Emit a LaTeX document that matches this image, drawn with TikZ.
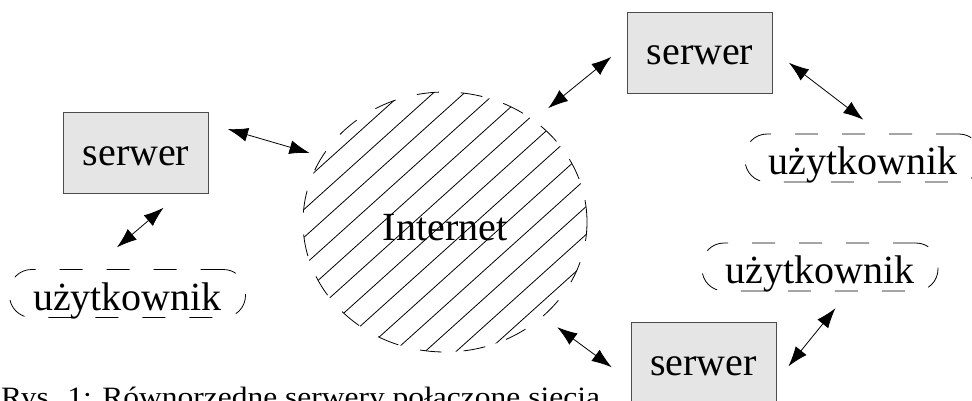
\documentclass[tikz,border=0pt]{standalone}
\usepackage{fontspec}
\setmainfont{Liberation Serif}
\usetikzlibrary{arrows.meta,shapes.geometric,calc}
\newcommand\duzy{\fontsize{40}{48}\selectfont}
\tikzset{
  serwer/.style={draw=black!70, fill=black!10, line width=0.8pt, minimum width=145pt, minimum height=81pt, inner sep=0pt, text height=24pt, text depth=0pt, font=\duzy},
  uzyt/.style={draw, line width=0.8pt, dash pattern=on 23pt off 24pt, rounded corners=22pt, minimum width=236pt, minimum height=48pt, inner sep=0pt, text height=40.5pt, text depth=7.5pt, font=\duzy},
  siec/.style={draw, ellipse, line width=0.8pt, dash pattern=on 22pt off 22pt, minimum width=284pt, minimum height=260pt, inner sep=0pt, text height=36pt, text depth=0pt, font=\duzy},
  lacze/.style={line width=0.8pt, {Latex[length=20pt,width=14pt]}-{Latex[length=20pt,width=14pt]}},
  kreska/.style={line width=0.8pt},
}
\begin{document}
\begin{tikzpicture}[x=1pt,y=-1pt]
        \path[use as bounding box, clip] (0,0) rectangle (972,401);

        % siec
        \node[siec] (net) at (445,222) {Internet};
        \begin{scope}
            \clip (net.center) ellipse [x radius=142pt, y radius=130pt];
            \foreach \k in {-9,...,9}
                \draw[kreska] ($(net.center)+({31*\k-200},180)$) -- ($(net.center)+({31*\k+200},-180)$);
        \end{scope}

        % serwery
        \node[serwer] (srvL) at (136,153) {serwer};
        \node[serwer] (srvT) at (700,53) {serwer};
        \node[serwer] (srvB) at (703.5,363) {serwer};

        % uzytkownicy
        \node[uzyt] (usrL) at (127.5,293.5) {użytkownik};
        \node[uzyt] (usrT) at (863,158) {użytkownik};
        \node[uzyt] (usrB) at (820,267) {użytkownik};

        % polaczenia
        \draw[lacze, shorten <=19.9pt, shorten >=12.9pt] (srvL.22.9) -- (net.152.1);
        \draw[lacze, shorten <=21.3pt, shorten >=33.6pt] (srvL.-43.6) -- (usrL.146.7);
        \draw[lacze, shorten <=18.6pt, shorten >=20.3pt] (net.49.5) -- (srvT.173.3);
        \draw[lacze, shorten <=20.2pt, shorten >=22.9pt] (srvT.2.7) -- (usrT.53);
        \draw[lacze, shorten <=17.8pt, shorten >=23.5pt] (net.-44.1) -- (srvB.-166.2);
        \draw[lacze, shorten <=19.2pt, shorten >=21.7pt] (srvB.-14.8) -- (usrB.-40.1);

        \node[anchor=base west, inner sep=0pt, xscale=1.125, transform shape, font=\fontsize{28}{32}\selectfont] (podpis) at (1,406.5) {Rys. 1: Równorzędne serwery połączone siecią};

    \end{tikzpicture}
\end{document}
